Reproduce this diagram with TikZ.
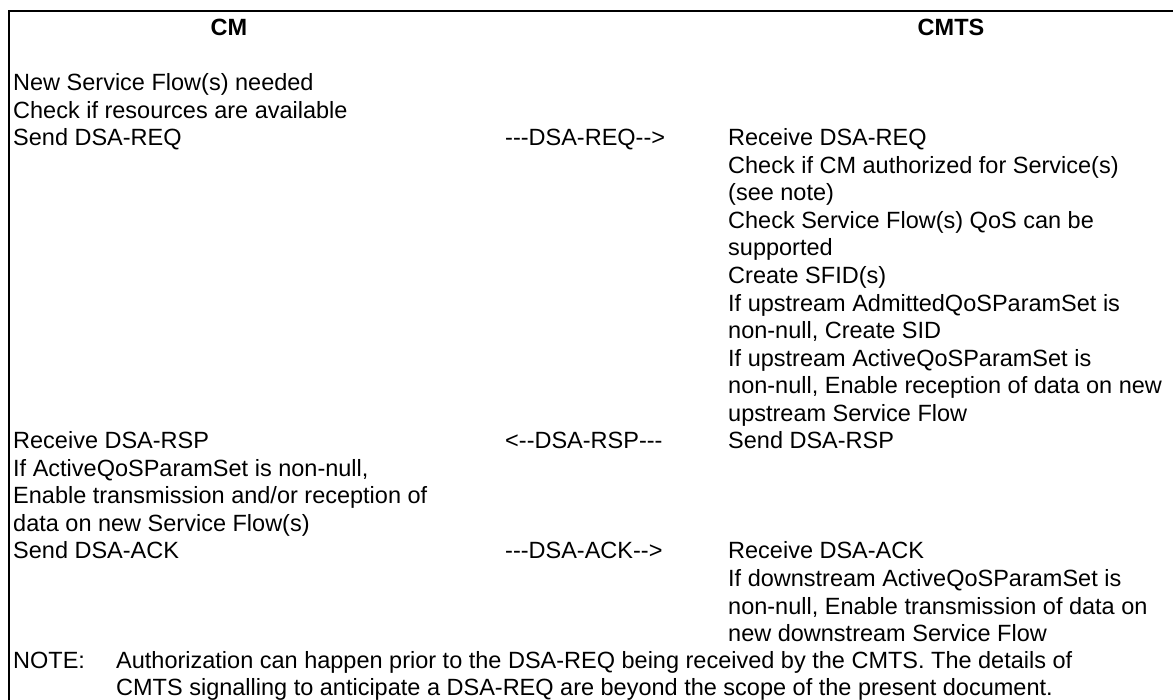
\documentclass[tikz,border=0pt]{standalone}
\usepackage{fontspec}
\setmainfont{Liberation Sans}
\newcommand\hh{-\kern0pt}
\begin{document}
\begin{tikzpicture}[x=1pt,y=1pt,
  txt/.style={anchor=base west, inner sep=0pt, font=\fontsize{23.5}{27.55}\selectfont},
  hdr/.style={anchor=base, inner sep=0pt, font=\fontsize{23.5}{27.55}\selectfont\bfseries},
  frame/.style={line width=2pt, line cap=rect}]
\useasboundingbox[fill=white] (0,0) rectangle (1173,-699);
% frame (top and left edges)
\coordinate (tr) at (1180,-11);
\coordinate (tl) at (8.5,-11);
\coordinate (bl) at (8.5,-705);
\draw[frame] (tr) -- (tl) -- (bl);
% headers
\node[hdr] (hcm) at (229,-35.5) {CM};
\node[hdr] (hcmts) at (951,-35.5) {CMTS};
% left column
\node[txt] (l1) at (13,-90.6) {\begin{tabular}[t]{@{}l@{}}New Service Flow(s) needed\\Check if resources are available\\Send DSA-REQ\end{tabular}};
\node[txt] (l2) at (13,-448.75) {\begin{tabular}[t]{@{}l@{}}Receive DSA-RSP\\If ActiveQoSParamSet is non-null,\\Enable transmission and/or reception of\\data on new Service Flow(s)\\Send DSA-ACK\end{tabular}};
% middle column
\node[txt] (m1) at (505,-145.7) {\hh\hh\hh DSA-REQ\hh\hh>};
\node[txt] (m2) at (505,-448.75) {<\hh\hh DSA-RSP\hh\hh\hh};
\node[txt] (m3) at (505,-558.95) {\hh\hh\hh DSA-ACK\hh\hh>};
% right column
\node[txt] (r1) at (728,-145.7) {\begin{tabular}[t]{@{}l@{}}Receive DSA-REQ\\Check if CM authorized for Service(s)\\(see note)\\Check Service Flow(s) QoS can be\\supported\\Create SFID(s)\\If upstream AdmittedQoSParamSet is\\non-null, Create SID\\If upstream ActiveQoSParamSet is\\non-null, Enable reception of data on new\\upstream Service Flow\end{tabular}};
\node[txt] (r2) at (728,-448.75) {Send DSA-RSP};
\node[txt] (r3) at (728,-558.95) {\begin{tabular}[t]{@{}l@{}}Receive DSA-ACK\\If downstream ActiveQoSParamSet is\\non-null, Enable transmission of data on\\new downstream Service Flow\end{tabular}};
% note
\node[txt] (nt) at (13,-668) {NOTE:};
\node[txt] (ntx) at (116,-668) {\begin{tabular}[t]{@{}l@{}}Authorization can happen prior to the DSA-REQ being received by the CMTS. The details of\\CMTS signalling to anticipate a DSA-REQ are beyond the scope of the present document.\end{tabular}};
\end{tikzpicture}
\end{document}
